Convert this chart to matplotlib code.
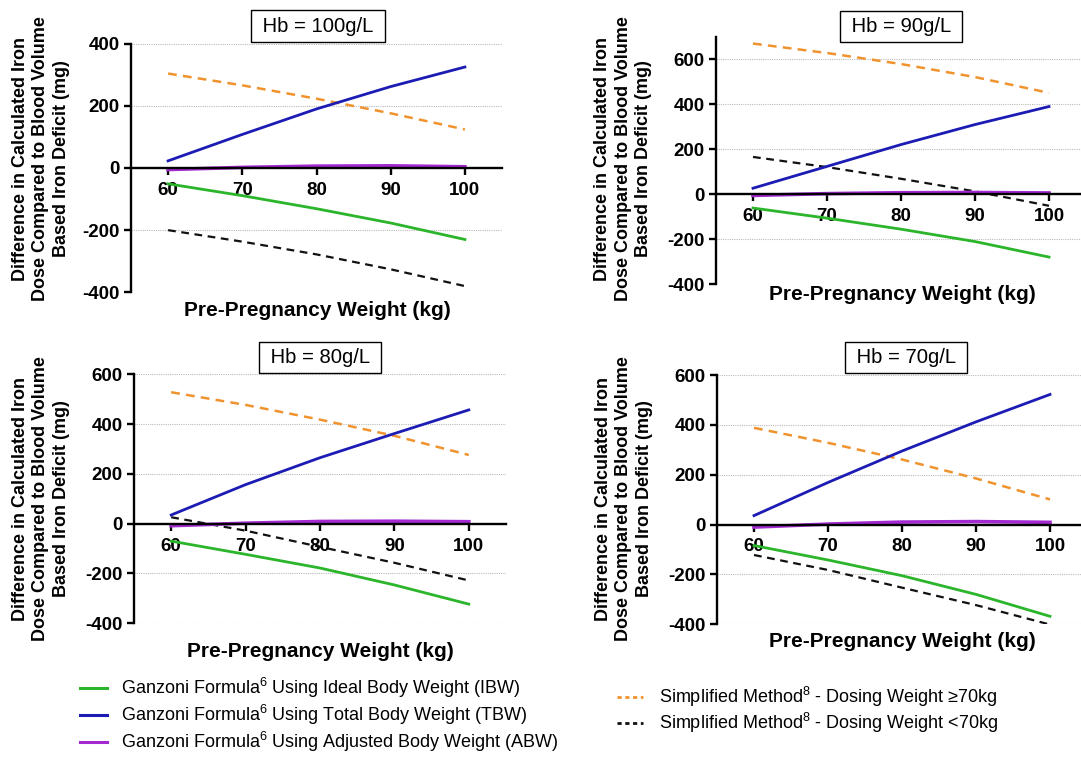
import matplotlib
matplotlib.use('Agg')
import matplotlib.pyplot as plt
from matplotlib.lines import Line2D

plt.rcParams['font.family'] = ['Liberation Sans', 'DejaVu Sans']
plt.rcParams['mathtext.default'] = 'regular'
plt.rcParams['axes.unicode_minus'] = False

# data (difference in mg vs pre-pregnancy weight)
weights = [60, 70, 80, 90, 100]
panel_titles = ['Hb = 100g/L', 'Hb = 90g/L', 'Hb = 80g/L', 'Hb = 70g/L']

ibw = [[-51, -89, -131, -177, -230],
       [-61, -106, -155, -210, -279],
       [-70, -123, -178, -246, -323],
       [-84, -142, -205, -280, -368]]
tbw = [[23, 108, 190, 262, 325],
       [27, 124, 221, 310, 390],
       [35, 157, 265, 362, 457],
       [36, 169, 295, 412, 522]]
abw = [[-5, 2, 6, 7, 4],
       [-5, 3, 7, 8, 6],
       [-8, 2, 9, 10, 8],
       [-10, 2, 10, 12, 9]]
simp_ge70 = [[304, 266, 223, 176, 124],
             [670, 628, 579, 521, 451],
             [528, 477, 418, 353, 276],
             [388, 328, 261, 185, 101]]
simp_lt70 = [[-200, -237, -278, -326, -380],
             [166, 121, 69, 13, -51],
             [26, -28, -93, -157, -228],
             [-122, -182, -253, -323, -401]]

y_limits = [(-400, 400), (-400, 700), (-400, 600), (-400, 600)]
y_ticks = [[-400, -200, 0, 200, 400],
           [-400, -200, 0, 200, 400, 600],
           [-400, -200, 0, 200, 400, 600],
           [-400, -200, 0, 200, 400, 600]]

W, H = 1081, 757

# layout in pixels: (left, right, top, bottom) of each axes
px_boxes = [(131, 502, 43.7, 292.3),
            (716, 1086, 36.8, 284.3),
            (134, 506, 374.3, 623.3),
            (717, 1087, 375, 624.3)]
title_pos = [(318, 26), (901, 26.3), (320, 357.8), (906, 357.5)]
xlabel_pos = [(317, 310), (902, 294.3), (320, 651.7), (902, 641.7)]
ylabel_pos = [(41, 159), (623, 159), (41, 499), (624, 499)]

GREEN = '#2BB52B'
BLUE = '#1C1CB4'
PURPLE = '#A22AD0'
ORANGE = '#F0932E'
BLACK = '#111111'

fig = plt.figure(figsize=(W / 100, H / 100), dpi=100)

ylabel = 'Difference in Calculated Iron\nDose Compared to Blood Volume\nBased Iron Deficit (mg)'

for i in range(4):
    l, r, t, b = px_boxes[i]
    ax = fig.add_axes([l / W, 1 - b / H, (r - l) / W, (b - t) / H])
    ax.set_xlim(55, 105)
    ax.set_ylim(*y_limits[i])
    ax.set_yticks(y_ticks[i])
    ax.set_xticks([60, 70, 80, 90, 100])
    ax.yaxis.grid(True, linestyle=(0, (1, 1)), color='#bbbbbb', linewidth=0.8)
    ax.set_axisbelow(True)
    for s in ['top', 'right']:
        ax.spines[s].set_visible(False)
    ax.spines['bottom'].set_position(('data', 0))
    ax.spines['bottom'].set_linewidth(1.7)
    ax.spines['left'].set_linewidth(1.7)
    ax.tick_params(axis='both', width=1.7, length=5, labelsize=13.5)
    ax.tick_params(axis='x', pad=5)
    ax.tick_params(axis='y', pad=3)
    for lab in ax.get_xticklabels() + ax.get_yticklabels():
        lab.set_fontweight('bold')

    ax.plot(weights, simp_ge70[i], color=ORANGE, lw=1.8, dashes=(3.5, 2.5))
    ax.plot(weights, simp_lt70[i], color=BLACK, lw=1.6, dashes=(3.5, 2.5))
    ax.plot(weights, ibw[i], color=GREEN, lw=2)
    ax.plot(weights, tbw[i], color=BLUE, lw=2)
    ax.plot(weights, abw[i], color=PURPLE, lw=2.6)

    fig.text(ylabel_pos[i][0] / W, 1 - ylabel_pos[i][1] / H, ylabel, rotation=90,
             fontsize=13, fontweight='bold', ha='center', va='center',
             multialignment='center', linespacing=1.25)
    fig.text(title_pos[i][0] / W, 1 - title_pos[i][1] / H, ' ' + panel_titles[i] + ' ', fontsize=14.6,
             ha='center', va='center',
             bbox=dict(boxstyle='square,pad=0.3', facecolor='white', edgecolor='black', linewidth=1))
    fig.text(xlabel_pos[i][0] / W, 1 - xlabel_pos[i][1] / H, 'Pre-Pregnancy Weight (kg)',
             fontsize=15, fontweight='bold', ha='center', va='center')

left_handles = [Line2D([], [], color=GREEN, lw=2.2),
                Line2D([], [], color=BLUE, lw=2.2),
                Line2D([], [], color=PURPLE, lw=2.2)]
left_labels = ['Ganzoni Formula$^6$ Using Ideal Body Weight (IBW)',
               'Ganzoni Formula$^6$ Using Total Body Weight (TBW)',
               'Ganzoni Formula$^6$ Using Adjusted Body Weight (ABW)']
right_handles = [Line2D([], [], color=ORANGE, lw=2, dashes=(1.5, 1.3)),
                 Line2D([], [], color=BLACK, lw=2, dashes=(1.5, 1.3))]
right_labels = ['Simplified Method$^8$ - Dosing Weight \u226570kg',
                'Simplified Method$^8$ - Dosing Weight <70kg']

fig.legend(left_handles, left_labels, loc='center left', bbox_to_anchor=(80 / W, 1 - 715 / H),
           frameon=False, fontsize=13, handlelength=1.5, handletextpad=0.78, labelspacing=0.17,
           borderpad=0, borderaxespad=0)
fig.legend(right_handles, right_labels, loc='center left', bbox_to_anchor=(617 / W, 1 - 710 / H),
           frameon=False, fontsize=13, handlelength=1.45, handletextpad=0.9, labelspacing=0.1,
           borderpad=0, borderaxespad=0)

fig.savefig('out.png', dpi=100)
